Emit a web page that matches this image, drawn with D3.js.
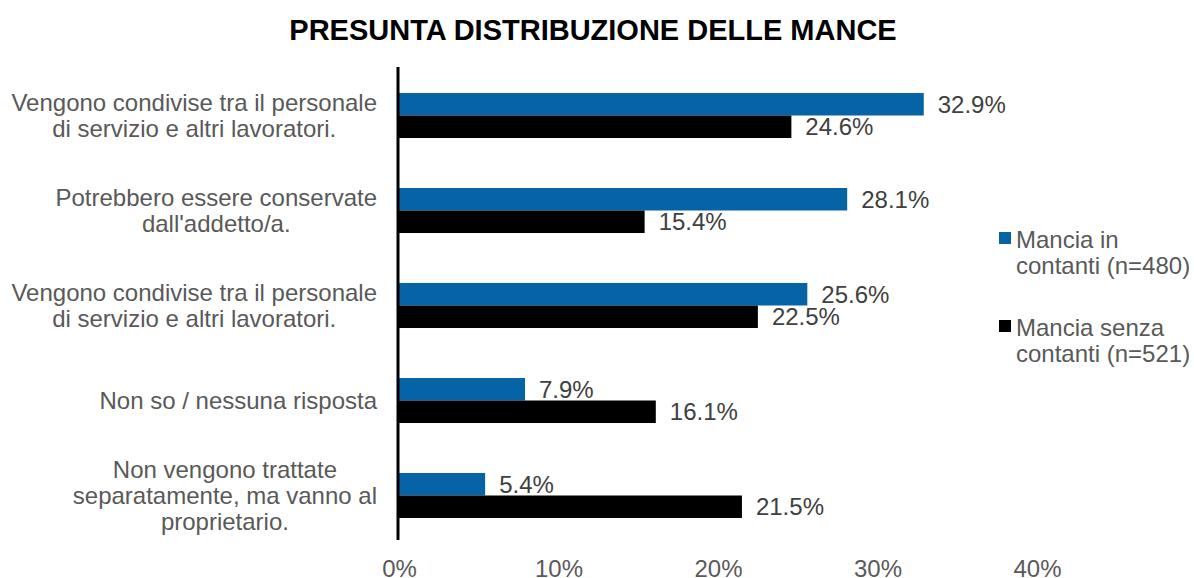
<!DOCTYPE html>
<html>
<head>
<meta charset="utf-8">
<script src="https://cdn.jsdelivr.net/npm/d3@7"></script>
<style>
  body { margin: 0; background: #fff; overflow: hidden; }
  text { font-family: "Liberation Sans", Arial, sans-serif; }
</style>
</head>
<body>
<svg id="chart"></svg>
<script>
var categories = [
  ["Vengono condivise tra il personale", "di servizio e altri lavoratori."],
  ["Potrebbero essere conservate", "dall'addetto/a."],
  ["Vengono condivise tra il personale", "di servizio e altri lavoratori."],
  ["Non so / nessuna risposta"],
  ["Non vengono trattate", "separatamente, ma vanno al", "proprietario."]
];
var cashValues = [32.9, 28.1, 25.6, 7.9, 5.4];
var cashlessValues = [24.6, 15.4, 22.5, 16.1, 21.5];
var seriesNames = [["Mancia in", "contanti (n=480)"], ["Mancia senza", "contanti (n=521)"]];
var seriesColors = ["#0563a6", "#000000"];
var tickValues = [0, 10, 20, 30, 40];

var width = 1194;
var height = 578;

var svg = d3.select('#chart')
    .attr('width', width)
    .attr('height', height);

// title
svg.append('text')
    .attr('x', 593)
    .attr('y', 40)
    .attr('text-anchor', 'middle')
    .attr('font-size', 29)
    .attr('font-weight', 'bold')
    .attr('fill', '#000')
    .text('PRESUNTA DISTRIBUZIONE DELLE MANCE');

var x = d3.scaleLinear()
          .domain([0, 40])
          .range([399, 1037]);

var y = d3.scaleBand()
          .domain(d3.range(categories.length))
          .range([68, 543])
          .paddingInner(0.526)
          .paddingOuter(0.263);

var sub = d3.scaleBand()
            .domain([0, 1])
            .range([0, y.bandwidth()]);

var rows = categories.map((c, i) => ({i: i, vals: [cashValues[i], cashlessValues[i]]}));

var groups = svg.selectAll('.row')
  .data(rows)
  .enter()
  .append('g')
    .classed('row', true)
    .attr('transform', d => 'translate(0,' + y(d.i) + ')');

groups.selectAll('rect')
  .data(d => d.vals.map((v, k) => ({v: v, k: k})))
  .enter()
  .append('rect')
    .attr('x', x(0))
    .attr('y', d => sub(d.k))
    .attr('width', d => x(d.v) - x(0))
    .attr('height', sub.bandwidth())
    .attr('fill', d => seriesColors[d.k]);

groups.selectAll('.val')
  .data(d => d.vals.map((v, k) => ({v: v, k: k})))
  .enter()
  .append('text')
    .classed('val', true)
    .attr('x', d => x(d.v) + 14)
    .attr('y', d => sub(d.k) + sub.bandwidth() / 2)
    .attr('dy', '0.36em')
    .attr('font-size', 24)
    .attr('fill', '#404040')
    .text(d => d.v.toFixed(1) + '%');

// category labels: lines centred on each other, block right-aligned to 377
groups.each(function(d) {
  var lines = categories[d.i];
  var lh = 26;
  var mid = y.bandwidth() / 2;
  var t = d3.select(this).append('text')
      .attr('text-anchor', 'middle')
      .attr('font-size', 24)
      .attr('fill', '#595959');
  var spans = lines.map((ln, j) => t.append('tspan')
      .attr('y', mid + (j - (lines.length - 1) / 2) * lh)
      .attr('dy', '0.36em')
      .text(ln));
  var maxW = d3.max(spans, s => s.node().getComputedTextLength());
  spans.forEach(s => s.attr('x', 377 - maxW / 2));
});

// axis line
svg.append('line')
    .attr('x1', 398).attr('x2', 398)
    .attr('y1', 67).attr('y2', 540)
    .attr('stroke', '#000')
    .attr('stroke-width', 3);

// x tick labels
var xAxis = d3.axisBottom(x)
    .tickValues(tickValues)
    .tickSize(0)
    .tickPadding(0)
    .tickFormat(d => d + '%');

var ax = svg.append('g')
    .attr('transform', 'translate(0,560)')
    .call(xAxis);
ax.select('.domain').remove();
ax.selectAll('text')
    .attr('font-size', 24)
    .attr('font-family', '"Liberation Sans", Arial, sans-serif')
    .attr('fill', '#595959');

// legend
var legend = svg.selectAll('.legend')
  .data(seriesNames)
  .enter()
  .append('g')
    .classed('legend', true)
    .attr('transform', (d, i) => 'translate(999,' + (232 + i * 88) + ')');

legend.append('rect')
    .attr('width', 12)
    .attr('height', 12)
    .attr('fill', (d, i) => seriesColors[i]);

legend.append('text')
    .attr('font-size', 24)
    .attr('fill', '#595959')
    .selectAll('tspan')
    .data(d => d)
    .enter()
    .append('tspan')
      .attr('x', 17)
      .attr('y', (d, j) => 7 + j * 26)
      .attr('dy', '0.36em')
      .text(d => d);
</script>
</body>
</html>
